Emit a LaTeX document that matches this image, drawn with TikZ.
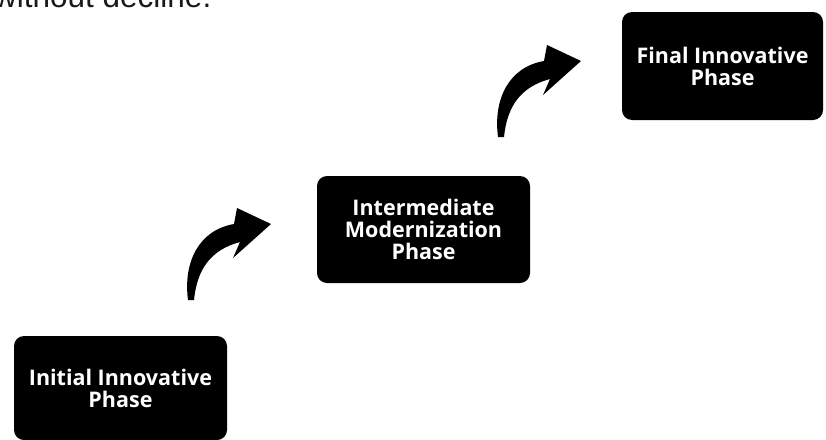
\documentclass[tikz,border=0pt]{standalone}
\usepackage{fontspec}
\setmainfont{Open Sans}
\newfontfamily\captionfont{Liberation Sans}
\usepackage{tikz}
\tikzset{
  phasebox/.style = {align=center, rectangle, fill=black, text=white,
    rounded corners=10pt, font=\fontsize{21.5}{22}\selectfont\bfseries,
    inner sep=0pt},
  curvedarrow/.pic = {
    \fill[black] (0,0) .. controls (-5,-38) and (11,-70) .. (46,-76)
      -- (49,-92) -- (83,-76) -- (45,-42) -- (52,-58)
      .. controls (22,-50) and (9,-30) .. (6,0) -- cycle;
  }
}

\begin{document}
\begin{tikzpicture}[x=1pt, y=-1pt]
        \useasboundingbox (0,0) rectangle (826,439);
        % text cut off at the top
        \node [anchor=base west, inner sep=0pt, text=black!90,
          font=\captionfont\fontsize{31.5}{34}\selectfont] (caption) at (-6,7)
          {without decline.};
        % the three phases
        \node [phasebox, minimum width=213pt, minimum height=104pt] (initial)
          at (120.5,388) {Initial Innovative\\Phase};
        \node [phasebox, minimum width=213pt, minimum height=107pt] (intermediate)
          at (423.5,229.5) {Intermediate\\Modernization\\Phase};
        \node [phasebox, minimum width=201pt, minimum height=108pt] (final)
          at (722.5,66) {Final Innovative\\Phase};
        % arrows between them
        \coordinate (tailone) at (188,300);
        \coordinate (tailtwo) at (498,137);
        \pic at (tailone) {curvedarrow};
        \pic at (tailtwo) {curvedarrow};
\end{tikzpicture}
\end{document}
